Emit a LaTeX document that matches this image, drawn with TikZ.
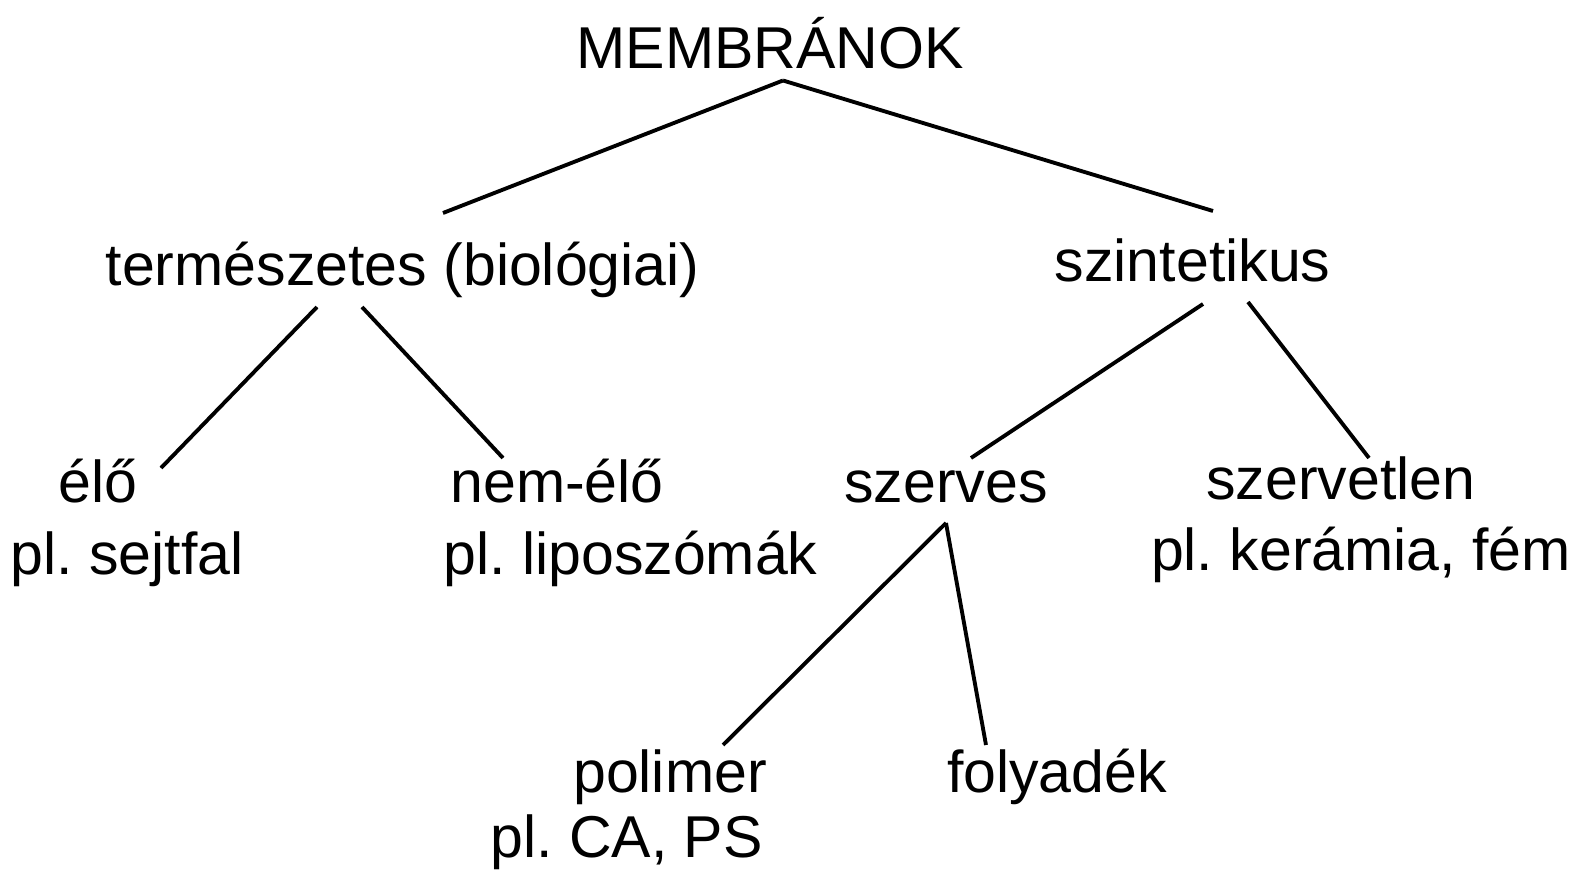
\documentclass[tikz,border=0pt]{standalone}
\usepackage{fontspec}
\setmainfont{Liberation Sans}
\usepackage{tikz}
\usetikzlibrary{positioning, calc}
\frenchspacing

\begin{document}
\begin{tikzpicture}[
  lbl/.style={anchor=base, inner sep=0pt, font=\fontsize{16.8}{20}\selectfont},
  branch/.style={draw, line width=1.1pt}
]
  \useasboundingbox (0, 0) rectangle (15.78, -8.72);

  \node[lbl] (mem) at (7.70, -0.684) {MEMBRÁNOK};

  \node[lbl] (term) at (4.026, -2.85) {természetes (biológiai)};
  \node[lbl] (szint) at (11.926, -2.82) {szintetikus};

  \node[lbl] (elo) at (0.98, -5.03) {élő};
  \node[lbl] (sejt) at (1.27, -5.74) {pl. sejtfal};
  \node[lbl] (nemelo) at (5.57, -5.03) {nem-élő};
  \node[lbl] (lipo) at (6.305, -5.74) {pl. liposzómák};

  \node[lbl] (szerves) at (9.46, -5.03) {szerves};
  \node[lbl] (szervetlen) at (13.41, -5.00) {szervetlen};
  \node[lbl] (keram) at (13.61, -5.71) {pl. kerámia, fém};

  \node[lbl] (polimer) at (6.70, -7.92) {polimer};
  \node[lbl] (plca) at (6.265, -8.57) {pl. CA, PS};
  \node[lbl] (folyadek) at (10.57, -7.92) {folyadék};

  % branches
  \draw[branch] ([shift={(0.13,-0.121)}]mem.base) -- ([shift={(0.404,0.72)}]term.base);
  \draw[branch] ([shift={(0.13,-0.121)}]mem.base) -- ([shift={(0.204,0.71)}]szint.base);

  \draw[branch] ([shift={(-0.856,-0.22)}]term.base) -- ([shift={(0.63,0.35)}]elo.base);
  \draw[branch] ([shift={(-0.406,-0.22)}]term.base) -- ([shift={(-0.54,0.45)}]nemelo.base);

  \draw[branch] ([shift={(0.104,-0.22)}]szint.base) -- ([shift={(0.25,0.45)}]szerves.base);
  \draw[branch] ([shift={(0.554,-0.20)}]szint.base) -- ([shift={(0.28,0.42)}]szervetlen.base);

  \draw[branch] ([shift={(0,-0.20)}]szerves.base) -- ([shift={(0.53,0.47)}]polimer.base);
  \draw[branch] ([shift={(0,-0.20)}]szerves.base) -- ([shift={(-0.71,0.47)}]folyadek.base);
\end{tikzpicture}
\end{document}
